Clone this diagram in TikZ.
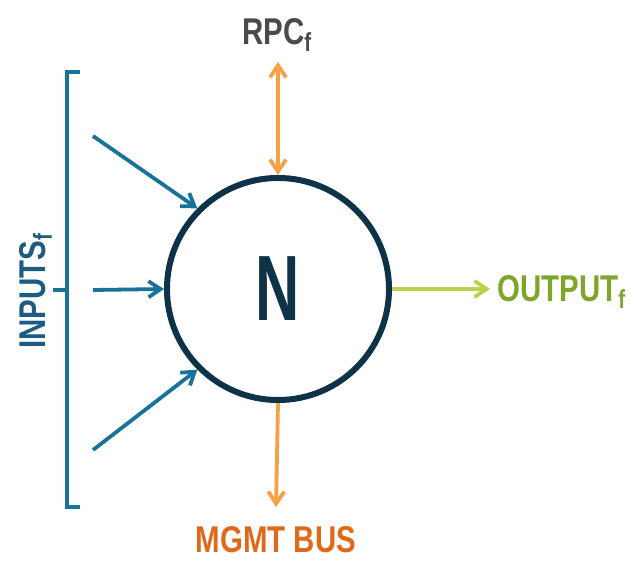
\documentclass[tikz,border=0pt]{standalone}
\usepackage{fontspec}
\setmainfont{Liberation Sans}[FakeStretch=0.79]
\usetikzlibrary{arrows.meta}
\definecolor{NodeNavy}{HTML}{0E3247}
\definecolor{InBlue}{HTML}{18729A}
\definecolor{InText}{HTML}{1C5B82}
\definecolor{RpcGray}{HTML}{4A4A4A}
\definecolor{LinkOrange}{HTML}{F7A145}
\definecolor{BusOrange}{HTML}{DF6819}
\definecolor{OutGreen}{HTML}{B7D44E}
\definecolor{OutText}{HTML}{7EA62A}

\begin{document}
\begin{tikzpicture}[x = 0.025cm, y = -0.025cm,
              barb/.style = {line width = 0.095cm, arrows = {-Straight Barb[length = 0.3cm, width = 0.4cm]}},
              label/.style = {font = \bfseries\fontsize{26.5}{28}\selectfont, inner sep = 0}]
              \useasboundingbox (0,0) rectangle (638,569);
              \node [circle, draw = NodeNavy, line width = 0.15cm, minimum size = 5.55cm, inner sep = 0,
                     text = NodeNavy, font = \bfseries\fontsize{66}{70}\selectfont] (N) at (278,289)
                     {\raisebox{-0.12cm}{\addfontfeature{FakeStretch=0.66}N}};
              \coordinate (in1) at (93,136);
              \coordinate (in2) at (93,290);
              \coordinate (in3) at (93,450);
              \foreach \c/\a in {in1/135, in2/180, in3/225}
              \draw [barb, InBlue] (\c) -- (N.\a);
              \draw [InBlue, line width = 0.09cm] (80,72) -- (67,72) -- (67,507) -- (80,507);
              \draw [InBlue, line width = 0.09cm] (67,290) -- (53,290);
              \node [label, text = InText, rotate = 90, anchor = base] (inputs) at (45,291) {INPUTS\textsubscript{f}};
              \coordinate (rpcend) at (278,62);
              \draw [barb, LinkOrange, arrows = {Straight Barb[length = 0.3cm, width = 0.4cm]-Straight Barb[length = 0.3cm, width = 0.4cm]}] (rpcend) -- (N.north);
              \node [label, text = RpcGray, anchor = base] (rpc) at (277,45) {RPC\textsubscript{f}};
              \coordinate (busend) at (276,507);
              \draw [barb, LinkOrange] (N.south) -- (busend);
              \node [label, text = BusOrange, anchor = base] (bus) at (276,553) {MGMT BUS};
              \coordinate (outend) at (490,289);
              \draw [barb, OutGreen] (N.east) -- (outend);
              \node [label, text = OutText, anchor = base west] (output) at (497,302) {OUTPUT\textsubscript{f}};
            \end{tikzpicture}
\end{document}
